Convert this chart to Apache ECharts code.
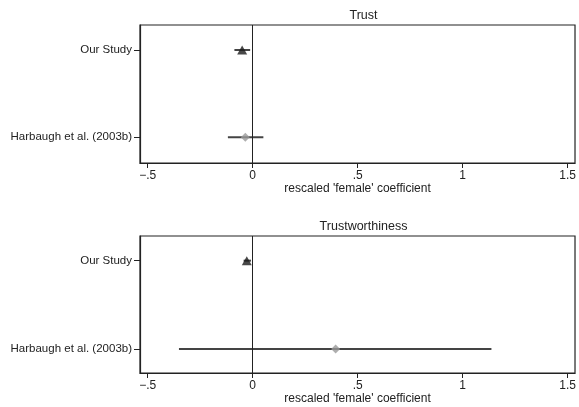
<!DOCTYPE html>
<html>
<head>
<meta charset="utf-8">
<script src="https://cdn.jsdelivr.net/npm/echarts@6/dist/echarts.min.js"></script>
<style>html,body{margin:0;padding:0;background:#fff}#c{width:579px;height:407px}</style>
</head>
<body>
<div id="c"></div>
<script>
// ---- data ----
var studies = ["Our Study", "Harbaugh et al. (2003b)"];
var panelTitles = ["Trust", "Trustworthiness"];
var xTickValues = [-0.5, 0, 0.5, 1, 1.5];
var xTickLabels = ["\u2212.5", "0", ".5", "1", "1.5"];
var axisTitle = "rescaled 'female' coefficient";
// Trust panel
var trustEst = [-0.050, -0.035];
var trustLo  = [-0.087, -0.118];
var trustHi  = [-0.012, 0.051];
// Trustworthiness panel
var worthEst = [-0.028, 0.395];
var worthLo  = [-0.043, -0.351];
var worthHi  = [-0.008, 1.137];

var symbols = ["triangle", "diamond"];
var symColors = ["#1a1a1a", "#9a9a9a"];
var font = "Liberation Sans, Arial, Helvetica, sans-serif";

var chart = echarts.init(document.getElementById('c'), null, {renderer: 'canvas'});

var grids = [
  {left: 140, right: 2, top: 25, height: 138},
  {left: 140, right: 2, top: 236, height: 137}
];
var yRanges = [[0.714, 2.294], [0.721, 2.271]];
var panels = [
  {est: trustEst, lo: trustLo, hi: trustHi},
  {est: worthEst, lo: worthLo, hi: worthHi}
];

var option = {
  animation: false,
  backgroundColor: '#fff',
  textStyle: {fontFamily: font},
  title: panelTitles.map(function (t, i) {
    return {
      text: t, left: 358.5, textAlign: 'center',
      top: i === 0 ? 4.5 : 215.5,
      textStyle: {fontSize: 12.5, fontWeight: 'normal', color: '#222', fontFamily: font}
    };
  }),
  grid: grids.map(function (g) {
    return Object.assign({show: true, borderColor: '#222', borderWidth: 1.2, backgroundColor: '#fff'}, g);
  }),
  xAxis: [0, 1].map(function (i) {
    return {
      type: 'value', gridIndex: i, min: -0.5365, max: 1.535,
      name: axisTitle, nameLocation: 'middle', nameGap: 19,
      nameTextStyle: {fontSize: 12, color: '#222', fontFamily: font},
      axisLine: {show: true, onZero: false, lineStyle: {color: '#222', width: 1.2}},
      axisTick: {show: true, length: 5, customValues: xTickValues, lineStyle: {color: '#222'}},
      axisLabel: {
        customValues: xTickValues, margin: 7, fontSize: 12, color: '#222', fontFamily: font,
        formatter: function (v) {
          var k = xTickValues.indexOf(v);
          return k >= 0 ? xTickLabels[k] : '';
        }
      },
      splitLine: {show: false}
    };
  }),
  yAxis: [0, 1].map(function (i) {
    return {
      type: 'value', gridIndex: i, inverse: true,
      min: yRanges[i][0], max: yRanges[i][1],
      axisLine: {show: true, onZero: false, lineStyle: {color: '#222', width: 1.2}},
      axisTick: {show: true, length: 6, customValues: [1, 2], lineStyle: {color: '#222'}},
      axisLabel: {
        customValues: [1, 2], margin: 8, fontSize: 11.5, color: '#222', fontFamily: font,
        formatter: function (v) { return studies[v - 1] || ''; }
      },
      splitLine: {show: false}
    };
  }),
  series: []
};

panels.forEach(function (p, i) {
  // error bars
  option.series.push({
    type: 'custom', xAxisIndex: i, yAxisIndex: i,
    data: studies.map(function (s, k) { return [p.lo[k], p.hi[k], k + 1]; }),
    encode: {x: [0, 1], y: 2},
    renderItem: function (params, api) {
      var a = api.coord([api.value(0), api.value(2)]);
      var b = api.coord([api.value(1), api.value(2)]);
      return {
        type: 'line',
        shape: {x1: a[0], y1: a[1], x2: b[0], y2: b[1]},
        style: {stroke: '#444', lineWidth: 2}
      };
    },
    z: 2,
    markLine: {
      silent: true, symbol: 'none', label: {show: false},
      lineStyle: {color: '#222', width: 1, type: 'solid'},
      data: [{xAxis: 0}]
    }
  });
  // point estimates
  option.series.push({
    type: 'scatter', xAxisIndex: i, yAxisIndex: i, z: 3,
    data: studies.map(function (s, k) {
      return {
        value: [p.est[k], k + 1],
        symbol: symbols[k],
        symbolSize: k === 0 ? [10, 9] : [9, 9],
        itemStyle: {color: symColors[k]}
      };
    })
  });
});

chart.setOption(option);
</script>
</body>
</html>
